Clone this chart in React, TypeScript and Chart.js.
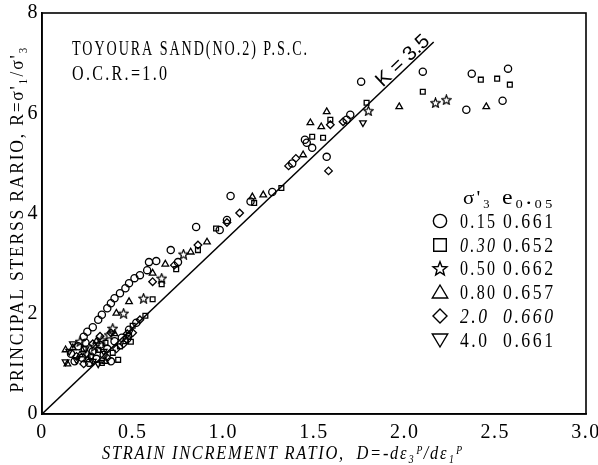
import React, { useEffect, useRef } from "react";
import { Chart, registerables } from "chart.js";

Chart.register(...registerables);

// Axis ticks
const xTicks = [0, 0.5, 1.0, 1.5, 2.0, 2.5, 3.0];
const yTicks = [0, 2, 4, 6, 8];

// Series: [D, R]
const s015: [number, number][] = [
  [1.76, 6.63], [2.10, 6.83], [2.34, 6.07], [2.37, 6.79], [2.57, 6.89], [2.54, 6.25],
  [1.45, 5.47], [1.46, 5.41], [1.49, 5.31], [1.57, 5.13], [1.68, 5.87], [1.70, 5.97], [1.38, 5.00],
  [1.04, 4.35], [1.27, 4.43], [1.15, 4.24], [1.02, 3.87], [0.98, 3.67], [0.85, 3.73],
  [0.71, 3.27], [0.75, 3.03], [0.63, 3.05], [0.59, 3.03], [0.58, 2.87], [0.54, 2.77],
  [0.51, 2.71], [0.48, 2.61], [0.46, 2.51], [0.43, 2.41], [0.40, 2.31], [0.38, 2.21], [0.36, 2.11],
  [0.33, 1.98], [0.31, 1.88], [0.28, 1.73], [0.25, 1.64], [0.23, 1.54],
  [0.47, 1.50], [0.48, 1.68], [0.52, 1.82],
  [0.18, 1.05], [0.22, 1.12], [0.26, 1.02], [0.30, 1.10], [0.34, 1.18], [0.28, 1.25], [0.20, 1.35],
  [0.24, 1.42], [0.32, 1.38], [0.36, 1.30], [0.40, 1.45], [0.44, 1.52], [0.38, 1.05], [0.16, 1.20],
];
const s030: [number, number][] = [
  [2.10, 6.43], [2.42, 6.67], [2.51, 6.69], [2.58, 6.57], [1.79, 6.21], [1.59, 5.87], [1.55, 5.51], [1.49, 5.53],
  [1.32, 4.51], [1.17, 4.21], [0.96, 3.70], [0.86, 3.27], [0.74, 2.89], [0.66, 2.59], [0.61, 2.29], [0.57, 1.96],
  [0.50, 1.76], [0.49, 1.44],
  [0.27, 1.15], [0.31, 1.28], [0.35, 1.42], [0.39, 1.22], [0.43, 1.35], [0.46, 1.45], [0.33, 1.02], [0.42, 1.08],
  [0.48, 1.56], [0.23, 1.30],
];
const s050: [number, number][] = [
  [2.17, 6.21], [2.23, 6.27], [1.80, 6.05], [0.78, 3.19], [0.66, 2.71], [0.56, 2.31], [0.45, 2.01], [0.39, 1.71],
  [0.25, 1.20], [0.29, 1.35], [0.33, 1.48], [0.37, 1.58], [0.21, 1.45],
];
const s080: [number, number][] = [
  [1.97, 6.13], [2.45, 6.13], [1.57, 6.03], [1.54, 5.73], [1.48, 5.81], [1.44, 5.17],
  [1.16, 4.33], [1.22, 4.37], [0.91, 3.43], [0.82, 3.23], [0.68, 2.99], [0.61, 2.81], [0.48, 2.24], [0.41, 2.01],
  [0.13, 1.28], [0.17, 1.32], [0.21, 1.18], [0.25, 1.08], [0.30, 1.45], [0.35, 1.05], [0.40, 1.60], [0.14, 1.00],
];
const s20: [number, number][] = [
  [1.58, 4.85], [1.66, 5.83], [1.59, 5.77], [1.36, 4.95], [1.40, 5.10], [1.09, 4.01], [1.02, 3.82], [0.86, 3.37],
  [0.73, 2.97], [0.61, 2.64], [0.47, 1.60], [0.54, 1.88], [0.50, 1.62],
  [0.19, 1.15], [0.23, 1.00], [0.28, 1.40], [0.32, 1.55], [0.36, 1.12], [0.41, 1.30], [0.45, 1.40], [0.38, 1.62],
];
const s40: [number, number][] = [
  [1.77, 5.81], [0.13, 1.04], [0.15, 1.25], [0.19, 1.08], [0.24, 1.30], [0.28, 1.05], [0.34, 1.25], [0.17, 1.40], [0.31, 1.00],
];

// K line endpoints
const kLine: [number, number][] = [[0, 0], [2.16, 7.42]];

const legendSigma = ["0.15", "0.30", "0.50", "0.80", "2.0", "4.0"];
const legendE = ["0.661", "0.652", "0.662", "0.657", "0.660", "0.661"];
const legendItalic = [false, true, false, false, true, false];
const legendShapes = ["circle", "square", "star", "triangle", "diamond", "invtriangle"];

const SERIF = "'Liberation Serif', 'DejaVu Serif', serif";

function toXY(a: [number, number][]) {
  return a.map(([x, y]) => ({ x, y }));
}

function starPath(ctx: CanvasRenderingContext2D, cx: number, cy: number, ro: number, ri: number) {
  ctx.beginPath();
  for (let i = 0; i < 10; i++) {
    const r = i % 2 === 0 ? ro : ri;
    const a = -Math.PI / 2 + (i * Math.PI) / 5;
    const px = cx + r * Math.cos(a);
    const py = cy + r * Math.sin(a);
    if (i === 0) ctx.moveTo(px, py);
    else ctx.lineTo(px, py);
  }
  ctx.closePath();
}

function makeStar(): HTMLCanvasElement {
  const c = document.createElement("canvas");
  c.width = 11;
  c.height = 11;
  const g = c.getContext("2d")!;
  g.strokeStyle = "#000";
  g.lineWidth = 1.2;
  starPath(g, 5.5, 6, 5, 2.2);
  g.stroke();
  return c;
}

// Draw text scaled horizontally to a target width (condensed look of the original typeface)
function fitText(
  ctx: CanvasRenderingContext2D,
  text: string,
  x: number,
  y: number,
  width: number,
  font: string,
  align: CanvasTextAlign = "left",
  spacing = 0
) {
  ctx.save();
  ctx.font = font;
  (ctx as any).letterSpacing = spacing + "px";
  const w = ctx.measureText(text).width - spacing;
  const k = width / w;
  let sx = x;
  if (align === "center") sx = x - width / 2;
  else if (align === "right") sx = x - width;
  ctx.translate(sx, y);
  ctx.scale(k, 1);
  ctx.textAlign = "left";
  ctx.fillText(text, 0, 0);
  ctx.restore();
}

function drawShape(ctx: CanvasRenderingContext2D, shape: string, cx: number, cy: number, s: number) {
  ctx.beginPath();
  if (shape === "circle") {
    ctx.arc(cx, cy, s * 0.95, 0, Math.PI * 2);
  } else if (shape === "square") {
    ctx.rect(cx - s * 0.9, cy - s * 0.9, s * 1.8, s * 1.8);
  } else if (shape === "star") {
    starPath(ctx, cx, cy + 1, s * 1.05, s * 0.45);
  } else if (shape === "triangle") {
    ctx.moveTo(cx, cy - s);
    ctx.lineTo(cx + s * 1.1, cy + s * 0.85);
    ctx.lineTo(cx - s * 1.1, cy + s * 0.85);
    ctx.closePath();
  } else if (shape === "diamond") {
    ctx.moveTo(cx, cy - s);
    ctx.lineTo(cx + s, cy);
    ctx.lineTo(cx, cy + s);
    ctx.lineTo(cx - s, cy);
    ctx.closePath();
  } else if (shape === "invtriangle") {
    ctx.moveTo(cx - s * 1.1, cy - s * 0.85);
    ctx.lineTo(cx + s * 1.1, cy - s * 0.85);
    ctx.lineTo(cx, cy + s);
    ctx.closePath();
  }
  ctx.stroke();
}

const decorPlugin = {
  id: "decor",
  beforeDraw(chart: any) {
    (chart.ctx as any).letterSpacing = "1.5px";
  },
  beforeDatasetsDraw(chart: any) {
    (chart.ctx as any).letterSpacing = "0px";
  },
  afterDraw(chart: any) {
    const ctx: CanvasRenderingContext2D = chart.ctx;
    const ca = chart.chartArea;
    ctx.save();
    (ctx as any).letterSpacing = "0px";
    ctx.fillStyle = "#000";
    ctx.strokeStyle = "#000";
    ctx.textBaseline = "alphabetic";

    // frame
    ctx.lineWidth = 1.6;
    ctx.strokeRect(ca.left, ca.top, ca.right - ca.left, ca.bottom - ca.top);

    // header texts
    fitText(ctx, "TOYOURA SAND(NO.2) P.S.C.", 72, 55, 235, `22px ${SERIF}`, "left", 3);
    fitText(ctx, "O.C.R.=1.0", 72, 80, 95, `21px ${SERIF}`, "left", 3);

    // K label along the line
    const xs = chart.scales.x;
    const ys = chart.scales.y;
    const p0x = xs.getPixelForValue(kLine[0][0]);
    const p0y = ys.getPixelForValue(kLine[0][1]);
    const p1x = xs.getPixelForValue(kLine[1][0]);
    const p1y = ys.getPixelForValue(kLine[1][1]);
    const ang = Math.atan2(p1y - p0y, p1x - p0x);
    ctx.save();
    ctx.translate(403, 61);
    ctx.rotate(ang);
    ctx.textBaseline = "middle";
    fitText(ctx, "K = 3.5", 0, 0, 66, `20px 'Liberation Sans', Arial, sans-serif`, "center");
    ctx.restore();

    // legend
    ctx.textBaseline = "alphabetic";
    fitText(ctx, "σ'₃", 463, 204, 27, `19px ${SERIF}`, "left", 2);
    fitText(ctx, "e₀.₀₅", 502, 204, 51, `20px ${SERIF}`, "left", 2);
    const rowY = [221, 245, 268, 292, 316, 340];
    ctx.lineWidth = 1.4;
    for (let i = 0; i < legendSigma.length; i++) {
      drawShape(ctx, legendShapes[i], 440, rowY[i], 7);
      const f = `${legendItalic[i] ? "italic " : ""}21px ${SERIF}`;
      fitText(ctx, legendSigma[i], 460, rowY[i] + 7, legendSigma[i].length === 4 ? 35 : 27, f, "left", 3);
      fitText(ctx, legendE[i], 503, rowY[i] + 7, 50, i === 4 ? `italic 21px ${SERIF}` : `21px ${SERIF}`, "left", 3);
    }

    // axis titles
    fitText(ctx, "STRAIN INCREMENT RATIO,  D=-dε₃ᴾ/dε₁ᴾ", 102, 459, 360, `italic 19px ${SERIF}`, "left", 2);
    ctx.save();
    ctx.translate(23, 220);
    ctx.rotate(-Math.PI / 2);
    fitText(ctx, "PRINCIPAL STERSS RARIO, R=σ'₁/σ'₃", 0, 0, 345, `19px ${SERIF}`, "center", 2);
    ctx.restore();

    ctx.restore();
  },
};

export default function App() {
  const ref = useRef<HTMLCanvasElement>(null);
  useEffect(() => {
    const star = makeStar();
    const base = {
      type: "scatter" as const,
      showLine: false,
      borderColor: "#000",
      backgroundColor: "rgba(0,0,0,0)",
      borderWidth: 1.3,
      pointRadius: 3.6,
    };
    const chart = new Chart(ref.current!, {
      type: "scatter",
      data: {
        datasets: [
          {
            type: "line",
            data: toXY(kLine),
            borderColor: "#000",
            borderWidth: 1.5,
            pointRadius: 0,
            fill: false,
          } as any,
          { ...base, label: "0.15", data: toXY(s015), pointStyle: "circle" },
          { ...base, label: "0.30", data: toXY(s030), pointStyle: "rect", pointRadius: 3.4 },
          { ...base, label: "0.50", data: toXY(s050), pointStyle: star as any },
          { ...base, label: "0.80", data: toXY(s080), pointStyle: "triangle", pointRadius: 3.8 },
          { ...base, label: "2.0", data: toXY(s20), pointStyle: "rectRot", pointRadius: 3.8 },
          { ...base, label: "4.0", data: toXY(s40), pointStyle: "triangle", pointRotation: 180, pointRadius: 3.8 },
        ],
      },
      options: {
        responsive: false,
        animation: false,
        devicePixelRatio: 1,
        layout: { padding: { top: 13, right: 12, left: 0, bottom: 0 } },
        plugins: { legend: { display: false }, tooltip: { enabled: false }, title: { display: false } },
        scales: {
          x: {
            type: "linear",
            min: 0,
            max: 3,
            afterBuildTicks: (s: any) => {
              s.ticks = xTicks.map((v) => ({ value: v }));
            },
            ticks: {
              color: "#000",
              font: { family: "Liberation Serif", size: 20 },
              padding: 7,
              maxRotation: 0,
              autoSkip: false,
              callback: (v: any) => (v === 0 ? "0" : Number(v).toFixed(1)),
            },
            grid: { display: false, drawTicks: false },
            border: { display: true, color: "#000", width: 1.6 },
            afterFit: (s: any) => {
              s.height = 51;
              s.paddingLeft = 0;
              s.paddingRight = 0;
            },
          },
          y: {
            type: "linear",
            min: 0,
            max: 8,
            afterBuildTicks: (s: any) => {
              s.ticks = yTicks.map((v) => ({ value: v }));
            },
            ticks: {
              color: "#000",
              font: { family: "Liberation Serif", size: 20 },
              padding: 3,
              autoSkip: false,
              callback: (v: any) => String(v),
            },
            grid: { display: false, drawTicks: false },
            border: { display: true, color: "#000", width: 1.6 },
            afterFit: (s: any) => {
              s.width = 42;
              s.paddingTop = 0;
              s.paddingBottom = 0;
            },
          },
        },
      },
      plugins: [decorPlugin],
    } as any);
    return () => chart.destroy();
  }, []);
  return (
    <div style={{ position: "fixed", left: 0, top: 0, width: 598, height: 465, background: "#fff" }}>
      <canvas ref={ref} width={598} height={465} style={{ display: "block" }} />
    </div>
  );
}
